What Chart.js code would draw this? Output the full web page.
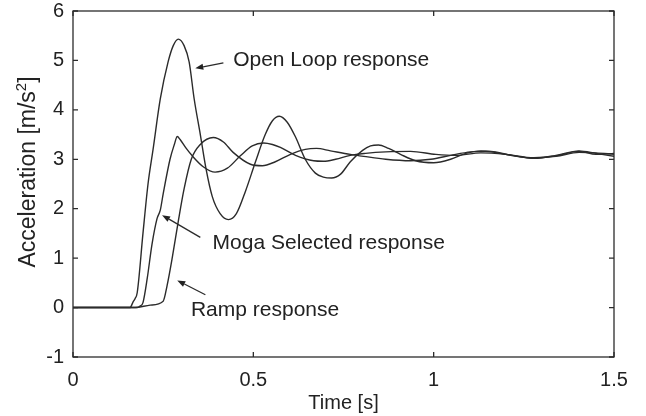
<!DOCTYPE html>
<html>
<head>
<meta charset="utf-8">
<title>Acceleration response</title>
<script src="https://cdn.jsdelivr.net/npm/chart.js@4.4.1/dist/chart.umd.min.js"></script>
<style>
  html, body { margin: 0; padding: 0; background: #ffffff; }
  #wrap { width: 646px; height: 416px; }
</style>
</head>
<body>
<div id="wrap"><canvas id="chart" width="646" height="416"></canvas></div>
<script>
// Time samples [s] and accelerations [m/s²] for each response
const openLoopTime = [0, 0.158, 0.167, 0.172, 0.178, 0.194, 0.208, 0.222, 0.242, 0.264,
  0.278, 0.292, 0.308, 0.322, 0.336, 0.353, 0.369, 0.386, 0.408, 0.431,
  0.453, 0.478, 0.506, 0.533, 0.553, 0.572, 0.594, 0.617, 0.644, 0.672,
  0.694, 0.717, 0.742, 0.769, 0.803, 0.825, 0.847, 0.875, 0.908, 0.95,
  1.0, 1.047, 1.089, 1.131, 1.172, 1.214, 1.278, 1.339, 1.403, 1.45, 1.5];
const openLoopAccel = [0, 0, 0.12, 0.18, 0.3, 1.5, 2.5, 3.2, 4.22, 4.98,
  5.3, 5.43, 5.3, 4.97, 4.22, 3.5, 2.8, 2.25, 1.9, 1.78,
  1.9, 2.35, 2.95, 3.5, 3.78, 3.87, 3.75, 3.45, 3.0, 2.72,
  2.64, 2.62, 2.7, 2.95, 3.18, 3.27, 3.29, 3.22, 3.1, 2.97,
  2.93, 3.0, 3.12, 3.17, 3.15, 3.08, 3.02, 3.08, 3.17, 3.12, 3.06];

const mogaTime = [0, 0.178, 0.186, 0.194, 0.206, 0.219, 0.233, 0.242, 0.25, 0.269,
  0.281, 0.289, 0.297, 0.314, 0.333, 0.361, 0.394, 0.428, 0.464, 0.497,
  0.528, 0.553, 0.575, 0.617, 0.667, 0.694, 0.728, 0.769, 0.811, 0.867,
  0.936, 1.006, 1.061, 1.131, 1.2, 1.278, 1.339, 1.403, 1.45, 1.5];
const mogaAccel = [0, 0, 0.03, 0.1, 0.6, 1.28, 1.8, 1.97, 2.3, 3.0,
  3.3, 3.46, 3.4, 3.22, 3.05, 2.85, 2.74, 2.82, 3.07, 3.27,
  3.33, 3.3, 3.24, 3.08, 2.97, 2.96, 3.0, 3.08, 3.12, 3.15,
  3.16, 3.1, 3.08, 3.13, 3.1, 3.03, 3.06, 3.14, 3.13, 3.1];

const rampTime = [0, 0.172, 0.214, 0.25, 0.261, 0.275, 0.292, 0.308, 0.328, 0.353,
  0.389, 0.417, 0.444, 0.492, 0.525, 0.561, 0.603, 0.644, 0.675, 0.714,
  0.769, 0.806, 0.867, 0.936, 0.992, 1.047, 1.103, 1.144, 1.2, 1.278,
  1.339, 1.403, 1.45, 1.5];
const rampAccel = [0, 0, 0.05, 0.13, 0.45, 1.0, 1.75, 2.4, 3.0, 3.3,
  3.44, 3.35, 3.14, 2.9, 2.87, 2.95, 3.1, 3.2, 3.22, 3.17,
  3.1, 3.06, 3.0, 2.97, 3.0, 3.08, 3.15, 3.16, 3.1, 3.02,
  3.07, 3.16, 3.1, 3.12];

const seriesNames = ['Open Loop response', 'Moga Selected response', 'Ramp response'];
const xTickValues = [0, 0.5, 1, 1.5];
const xTickLabels = ['0', '0.5', '1', '1.5'];
const yTickValues = [-1, 0, 1, 2, 3, 4, 5, 6];
const yTickLabels = ['-1', '0', '1', '2', '3', '4', '5', '6'];
const xTitle = 'Time [s]';
const yTitleParts = ['Acceleration [m/s', '2', ']'];

// Callout labels with arrows, in data units
const callouts = [
  { text: 'Open Loop response',     tx: 0.444, ty: 5.0,   from: [0.417, 4.95], to: [0.339, 4.84] },
  { text: 'Moga Selected response', tx: 0.387, ty: 1.3,   from: [0.353, 1.42], to: [0.247, 1.87] },
  { text: 'Ramp response',          tx: 0.327, ty: -0.06, from: [0.367, 0.26], to: [0.289, 0.55] }
];

const INK = '#2b2b2b';
const FONT = "'Liberation Sans', Arial, Helvetica, sans-serif";

function toPoints(ts, vs) { return ts.map((t, i) => ({ x: t, y: vs[i] })); }

const lineStyle = {
  borderColor: INK,
  borderWidth: 1.4,
  pointRadius: 0,
  fill: false,
  cubicInterpolationMode: 'monotone'
};

// Box frame with inward tick marks on all four sides
const frameTicks = {
  id: 'frameTicks',
  afterDatasetsDraw(chart) {
    const { ctx, chartArea: a, scales: { x, y } } = chart;
    const len = 5;
    ctx.save();
    ctx.strokeStyle = INK;
    ctx.lineWidth = 1.3;
    ctx.strokeRect(a.left, a.top, a.right - a.left, a.bottom - a.top);
    ctx.beginPath();
    xTickValues.forEach(v => {
      const px = x.getPixelForValue(v);
      ctx.moveTo(px, a.bottom); ctx.lineTo(px, a.bottom - len);
      ctx.moveTo(px, a.top); ctx.lineTo(px, a.top + len);
    });
    yTickValues.forEach(v => {
      const py = y.getPixelForValue(v);
      ctx.moveTo(a.left, py); ctx.lineTo(a.left + len, py);
      ctx.moveTo(a.right, py); ctx.lineTo(a.right - len, py);
    });
    ctx.stroke();
    ctx.restore();
  }
};

// Vertical axis title with a raised exponent
const yAxisTitle = {
  id: 'yAxisTitle',
  afterDraw(chart) {
    const { ctx, chartArea: a } = chart;
    const main = '23px ' + FONT, sup = '15px ' + FONT;
    ctx.save();
    ctx.fillStyle = '#222';
    ctx.textBaseline = 'alphabetic';
    ctx.textAlign = 'left';
    ctx.font = main; const w0 = ctx.measureText(yTitleParts[0]).width;
    const w2 = ctx.measureText(yTitleParts[2]).width;
    ctx.font = sup; const w1 = ctx.measureText(yTitleParts[1]).width;
    const total = w0 + w1 + w2;
    const cy = (a.top + a.bottom) / 2 - 12;
    ctx.translate(35, cy);
    ctx.rotate(-Math.PI / 2);
    let cx = -total / 2;
    ctx.font = main; ctx.fillText(yTitleParts[0], cx, 0); cx += w0;
    ctx.font = sup; ctx.fillText(yTitleParts[1], cx, -9); cx += w1;
    ctx.font = main; ctx.fillText(yTitleParts[2], cx, 0);
    ctx.restore();
  }
};

// Text callouts with arrows pointing at their curves
const calloutLabels = {
  id: 'calloutLabels',
  afterDraw(chart) {
    const { ctx, scales: { x, y } } = chart;
    ctx.save();
    ctx.fillStyle = '#222';
    ctx.strokeStyle = INK;
    ctx.lineWidth = 1.3;
    ctx.font = '21px ' + FONT;
    ctx.textAlign = 'left';
    ctx.textBaseline = 'middle';
    callouts.forEach(c => {
      ctx.fillText(c.text, x.getPixelForValue(c.tx), y.getPixelForValue(c.ty));
      const x0 = x.getPixelForValue(c.from[0]), y0 = y.getPixelForValue(c.from[1]);
      const x1 = x.getPixelForValue(c.to[0]), y1 = y.getPixelForValue(c.to[1]);
      const ang = Math.atan2(y1 - y0, x1 - x0);
      const head = 8, half = 3;
      const bx = x1 - head * Math.cos(ang), by = y1 - head * Math.sin(ang);
      ctx.beginPath();
      ctx.moveTo(x0, y0); ctx.lineTo(bx, by);
      ctx.stroke();
      ctx.beginPath();
      ctx.moveTo(x1, y1);
      ctx.lineTo(bx + half * Math.sin(ang), by - half * Math.cos(ang));
      ctx.lineTo(bx - half * Math.sin(ang), by + half * Math.cos(ang));
      ctx.closePath();
      ctx.fill();
    });
    ctx.restore();
  }
};

new Chart(document.getElementById('chart'), {
  type: 'line',
  data: {
    datasets: [
      Object.assign({ label: seriesNames[0], data: toPoints(openLoopTime, openLoopAccel) }, lineStyle),
      Object.assign({ label: seriesNames[1], data: toPoints(mogaTime, mogaAccel) }, lineStyle),
      Object.assign({ label: seriesNames[2], data: toPoints(rampTime, rampAccel) }, lineStyle)
    ]
  },
  options: {
    responsive: false,
    animation: false,
    events: [],
    layout: { padding: { top: 11, right: 32, left: 0, bottom: 0 } },
    plugins: { legend: { display: false }, tooltip: { enabled: false } },
    scales: {
      x: {
        type: 'linear',
        min: 0, max: 1.5,
        afterBuildTicks(s) { s.ticks = xTickValues.map(v => ({ value: v })); },
        afterFit(s) { s.height = 59; s.paddingLeft = 0; s.paddingRight = 0; },
        grid: { display: false, drawTicks: false },
        border: { display: false },
        ticks: {
          color: '#222', padding: 11, maxRotation: 0,
          font: { family: FONT, size: 20 },
          callback: (v) => xTickLabels[xTickValues.indexOf(v)]
        },
        title: {
          display: true, text: xTitle, color: '#222',
          font: { family: FONT, size: 20 },
          padding: { top: 0, bottom: 1 }
        }
      },
      y: {
        type: 'linear',
        min: -1, max: 6,
        afterBuildTicks(s) { s.ticks = yTickValues.map(v => ({ value: v })); },
        afterFit(s) { s.width = 73; s.paddingTop = 0; s.paddingBottom = 0; },
        grid: { display: false, drawTicks: false },
        border: { display: false },
        ticks: {
          color: '#222', padding: 9,
          font: { family: FONT, size: 20 },
          callback: (v) => yTickLabels[yTickValues.indexOf(v)]
        },
        title: { display: false }
      }
    }
  },
  plugins: [frameTicks, yAxisTitle, calloutLabels]
});
</script>
</body>
</html>
